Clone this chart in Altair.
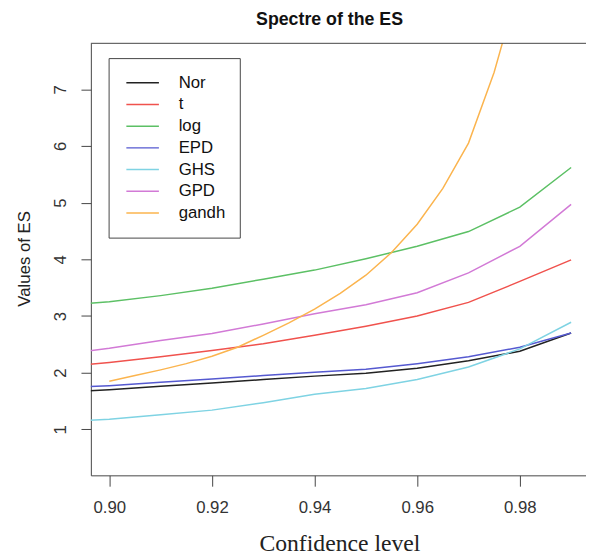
import altair as alt
import pandas as pd

conf = [0.89, 0.90, 0.91, 0.92, 0.93, 0.94, 0.95, 0.96, 0.97, 0.98, 0.99]

nor   = [1.65, 1.70, 1.76, 1.82, 1.88, 1.94, 1.99, 2.08, 2.21, 2.38, 2.70]
t_    = [2.10, 2.18, 2.28, 2.39, 2.51, 2.66, 2.82, 3.00, 3.24, 3.61, 3.99]
log_  = [3.18, 3.25, 3.36, 3.49, 3.65, 3.81, 4.01, 4.23, 4.49, 4.92, 5.62]
epd   = [1.73, 1.77, 1.83, 1.89, 1.95, 2.01, 2.06, 2.16, 2.28, 2.45, 2.70]
ghs   = [1.13, 1.18, 1.26, 1.34, 1.47, 1.62, 1.72, 1.88, 2.10, 2.42, 2.89]
gpd   = [2.32, 2.43, 2.57, 2.69, 2.86, 3.04, 3.20, 3.41, 3.76, 4.23, 4.97]

conf_gandh = [0.900, 0.905, 0.910, 0.915, 0.920, 0.925, 0.930, 0.935, 0.940,
              0.945, 0.950, 0.955, 0.960, 0.965, 0.970, 0.975, 0.980, 0.985, 0.990]
gandh = [1.85, 1.95, 2.05, 2.16, 2.29, 2.45, 2.66, 2.88, 3.12,
         3.40, 3.72, 4.12, 4.62, 5.25, 6.05, 7.30, 8.90, 11.0, 14.0]

series_names = ["Nor", "t", "log", "EPD", "GHS", "GPD", "gandh"]
colors = ["#222222", "#f0524d", "#5cc065", "#5559d0", "#7fd3e3", "#d27ad6", "#fbb44e"]

x_ticks = [0.90, 0.92, 0.94, 0.96, 0.98]
y_ticks = [1, 2, 3, 4, 5, 6, 7]

rows = []
for name, vals in zip(series_names[:6], [nor, t_, log_, epd, ghs, gpd]):
    for c, v in zip(conf, vals):
        rows.append({"conf": c, "es": v, "series": name})
for c, v in zip(conf_gandh, gandh):
    rows.append({"conf": c, "es": v, "series": "gandh"})
df = pd.DataFrame(rows)

W, H = 502, 438
x_scale = alt.Scale(domain=[0.8964, 0.9929], nice=False, zero=False)
y_scale = alt.Scale(domain=[0.19, 7.81], nice=False, zero=False)

lines = alt.Chart(df).mark_line(strokeWidth=1.5, clip=True).encode(
    x=alt.X("conf:Q", scale=x_scale,
            axis=alt.Axis(values=x_ticks, format=".2f", title="Confidence level",
                          grid=False, labelFontSize=17, labelFont="Liberation Sans",
                          labelColor="#333333", labelBaseline="alphabetic", labelPadding=27,
                          labelFlush=False, labelOverlap=False,
                          tickSize=11, tickColor="#444444", domainColor="#444444",
                          titleFont="Liberation Serif", titleFontSize=24, titleFontWeight="normal",
                          titleColor="#222222", titleX=252, titleY=76,
                          titleBaseline="alphabetic", titleAlign="center")),
    y=alt.Y("es:Q", scale=y_scale,
            axis=alt.Axis(values=y_ticks, format="d", title="Values of ES",
                          grid=False, labelFontSize=17, labelFont="Liberation Sans",
                          labelColor="#333333", labelAngle=270, labelAlign="center",
                          labelBaseline="alphabetic", labelPadding=16,
                          labelFlush=False, labelOverlap=False,
                          tickSize=10, tickColor="#444444", domainColor="#444444",
                          titleFont="Liberation Sans", titleFontSize=17, titleFontWeight="normal",
                          titleColor="#222222", titleAngle=270, titleX=-62, titleY=218,
                          titleBaseline="alphabetic", titleAlign="center")),
    color=alt.Color("series:N",
                    scale=alt.Scale(domain=series_names, range=colors),
                    sort=series_names,
                    legend=alt.Legend(orient="none", legendX=18, legendY=15, title=None,
                                      symbolType="stroke", symbolSize=1089,
                                      symbolStrokeWidth=1.5, symbolOffset=3,
                                      clipHeight=22,
                                      labelFontSize=17,
                                      labelFont="Liberation Sans", labelColor="#111111",
                                      labelOffset=19, padding=14, rowPadding=0,
                                      strokeColor="#444444", fillColor="white")),
    order=alt.Order("conf:Q"),
)

top_border = alt.Chart(pd.DataFrame({"a": [0]})).mark_rule(
    color="#444444", strokeWidth=1
).encode(x=alt.value(0), x2=alt.value(W), y=alt.value(0))

title = alt.Chart(pd.DataFrame({"t": ["Spectre of the ES"]})).mark_text(
    font="Liberation Sans", fontSize=18, fontWeight="bold", color="#111111",
    align="center", baseline="alphabetic"
).encode(text="t:N", x=alt.value(242), y=alt.value(-19))

chart = alt.layer(lines, top_border, title).properties(
    width=W, height=H,
    padding={"left": 84, "top": 32, "right": 0, "bottom": 80},
    autosize=alt.AutoSizeParams(type="none"),
).configure_view(stroke=None)

chart.save("out.html", embed_options={"renderer": "svg", "actions": False})
